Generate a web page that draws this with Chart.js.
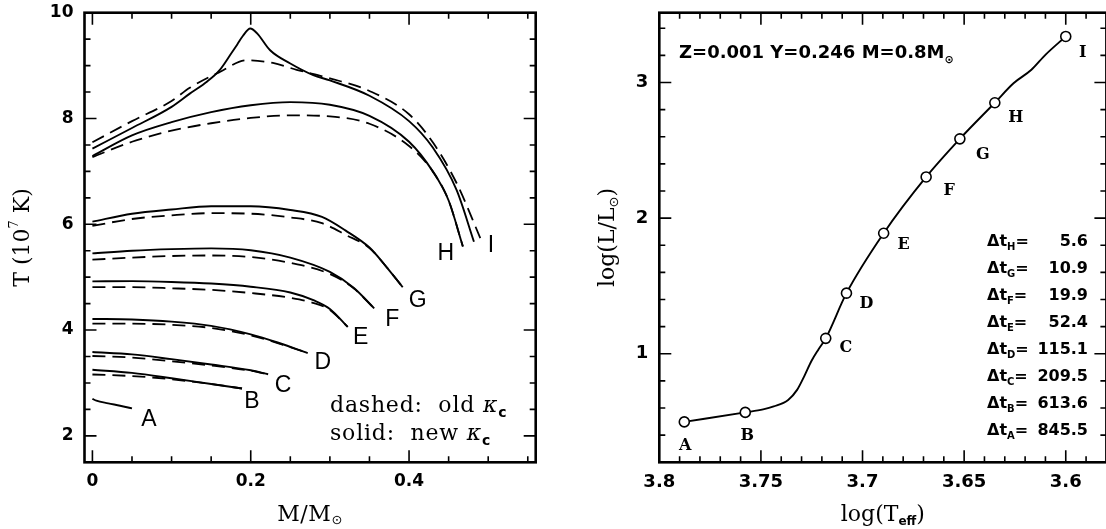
<!DOCTYPE html>
<html>
<head>
<meta charset="utf-8">
<script src="https://cdn.jsdelivr.net/npm/chart.js@4.4.1/dist/chart.umd.min.js"></script>
<style>
  html, body { margin: 0; padding: 0; background: #fff; overflow: hidden; width: 1106px; height: 529px; }
  #left { position: absolute; left: 0; top: 0; }
  #right { position: absolute; left: 553px; top: 0; }
</style>
</head>
<body>
<canvas id="left" width="553" height="529"></canvas>
<canvas id="right" width="560" height="529"></canvas>
<script>
// left panel: temperature profiles T(M) at the points A..I, solid = new kappa_c, dashed = old
const trackNames = ['A', 'B', 'C', 'D', 'E', 'F', 'G', 'H', 'I']

const massA = [0, 0.005, 0.02, 0.035, 0.05]
const newA = [2.70, 2.665, 2.615, 2.57, 2.52]

const massB = [0, 0.05, 0.1, 0.15, 0.189]
const newB = [3.25, 3.19, 3.09, 2.98, 2.895]
const oldB = [3.16, 3.13, 3.07, 2.98, 2.895]

const massC = [0, 0.05, 0.1, 0.15, 0.2, 0.222]
const newC = [3.585, 3.54, 3.45, 3.35, 3.24, 3.165]
const oldC = [3.51, 3.48, 3.41, 3.33, 3.23, 3.165]

const massD = [0, 0.05, 0.1, 0.15, 0.2, 0.235, 0.272]
const newD = [4.21, 4.20, 4.16, 4.08, 3.92, 3.76, 3.565]
const oldD = [4.12, 4.12, 4.10, 4.04, 3.90, 3.75, 3.565]

const massE = [0, 0.05, 0.1, 0.15, 0.2, 0.25, 0.28, 0.30, 0.3225]
const newE = [4.92, 4.925, 4.91, 4.88, 4.82, 4.71, 4.56, 4.40, 4.06]
const oldE = [4.81, 4.81, 4.79, 4.76, 4.70, 4.61, 4.51, 4.38, 4.06]

const massF = [0, 0.05, 0.1, 0.15, 0.2, 0.25, 0.3, 0.33, 0.356]
const newF = [5.45, 5.50, 5.53, 5.545, 5.51, 5.37, 5.10, 4.80, 4.41]
const oldF = [5.33, 5.37, 5.40, 5.41, 5.38, 5.27, 5.06, 4.79, 4.41]

const massG = [0, 0.05, 0.1, 0.15, 0.2, 0.25, 0.29, 0.32, 0.35, 0.37, 0.392]
const newG = [6.05, 6.20, 6.28, 6.34, 6.34, 6.27, 6.14, 5.88, 5.56, 5.22, 4.81]
const oldG = [5.97, 6.10, 6.17, 6.21, 6.20, 6.13, 6.02, 5.80, 5.55, 5.22, 4.81]

const massH = [0, 0.05, 0.1, 0.15, 0.2, 0.25, 0.3, 0.35, 0.4, 0.43, 0.45, 0.468]
const newH = [7.29, 7.68, 7.93, 8.12, 8.25, 8.31, 8.26, 8.05, 7.56, 7.0, 6.45, 5.58]
const oldH = [7.27, 7.56, 7.77, 7.91, 8.01, 8.06, 8.04, 7.90, 7.48, 7.0, 6.45, 5.58]

const massInew = [0, 0.05, 0.1, 0.123, 0.145, 0.161, 0.174, 0.183, 0.19, 0.1994, 0.208, 0.2245, 0.25, 0.279, 0.3, 0.35, 0.4, 0.43, 0.46, 0.482]
const newI = [7.43, 7.82, 8.22, 8.47, 8.70, 8.92, 9.20, 9.40, 9.56, 9.70, 9.61, 9.29, 9.04, 8.82, 8.72, 8.43, 7.95, 7.45, 6.65, 5.67]
const massIold = [0, 0.05, 0.1, 0.123, 0.161, 0.195, 0.228, 0.258, 0.3, 0.35, 0.4, 0.43, 0.46, 0.49]
const oldI = [7.55, 7.95, 8.33, 8.58, 8.88, 9.10, 9.05, 8.92, 8.76, 8.52, 8.08, 7.55, 6.78, 5.74]

const leftXTicks = [0, 0.2, 0.4]
const leftYTicks = [2, 4, 6, 8, 10]

// right panel: HR diagram track with marked points A..I
const pointTeff = [3.7877, 3.7577, 3.7181, 3.7079, 3.6896, 3.6687, 3.6521, 3.6349, 3.6000]
const pointLum = [0.498, 0.568, 1.114, 1.447, 1.889, 2.304, 2.585, 2.851, 3.340]
const trackTeff = [3.7877, 3.7577, 3.7489, 3.7437, 3.7366, 3.7322, 3.7287, 3.7252, 3.7217, 3.7181, 3.7079, 3.6896, 3.6687, 3.6521, 3.6349, 3.6257, 3.6169, 3.6099, 3.6000]
const trackLum = [0.498, 0.568, 0.590, 0.612, 0.660, 0.734, 0.834, 0.945, 1.032, 1.114, 1.447, 1.889, 2.304, 2.585, 2.851, 2.995, 3.094, 3.206, 3.340]

const dtNames = ['H', 'G', 'F', 'E', 'D', 'C', 'B', 'A']
const dtValues = ['5.6', '10.9', '19.9', '52.4', '115.1', '209.5', '613.6', '845.5']

const rightXTicks = [3.8, 3.75, 3.7, 3.65, 3.6]
const rightYTicks = [1, 2, 3]

Chart.defaults.font.family = 'DejaVu Sans'
Chart.defaults.color = '#000'

const pts = (xs, ys) => xs.map((x, i) => ({ x, y: ys[i] }))

const rich = (ctx, parts, x, y, align = 'left', spacing = '0px') => {
  ctx.letterSpacing = spacing
  let w = 0
  parts.forEach(([t, f]) => { ctx.font = f; w += ctx.measureText(t).width })
  let cx = align === 'center' ? x - w / 2 : align === 'right' ? x - w : x
  parts.forEach(([t, f, dy = 0]) => {
    ctx.font = f
    ctx.fillText(t, cx, y + dy)
    cx += ctx.measureText(t).width
  })
  ctx.letterSpacing = '0px'
}

const steps = (from, to, step) => {
  const out = []
  for (let v = from; v <= to + 1e-9; v += step) out.push(+v.toFixed(4))
  return out
}

const framePlugin = (xMajor, xAll, yMajor, yAll) => ({
  id: 'frame',
  afterDatasetsDraw (chart) {
    const { ctx, chartArea: a, scales: { x, y } } = chart
    const isMajor = (list, v) => list.some(m => Math.abs(m - v) < 1e-6)
    ctx.save()
    ctx.strokeStyle = '#000'
    ctx.lineWidth = 1.6
    ctx.beginPath()
    xAll.forEach(v => {
      const p = x.getPixelForValue(v)
      const len = isMajor(xMajor, v) ? 12 : 6
      ctx.moveTo(p, a.bottom); ctx.lineTo(p, a.bottom - len)
      ctx.moveTo(p, a.top); ctx.lineTo(p, a.top + len)
    })
    yAll.forEach(v => {
      const p = y.getPixelForValue(v)
      const len = isMajor(yMajor, v) ? 12 : 6
      ctx.moveTo(a.left, p); ctx.lineTo(a.left + len, p)
      ctx.moveTo(a.right, p); ctx.lineTo(a.right - len, p)
    })
    ctx.stroke()
    ctx.lineWidth = 2.6
    ctx.strokeRect(a.left, a.top, a.right - a.left, a.bottom - a.top)
    ctx.restore()
  }
})

const fixAxis = (size, horizontal) => scale => {
  if (horizontal) scale.height = size
  else scale.width = size
  scale.paddingLeft = 0
  scale.paddingRight = 0
  scale.paddingTop = 0
  scale.paddingBottom = 0
}

// ---------- left chart ----------
const solid = (xs, ys) => ({ data: pts(xs, ys), showLine: true, borderColor: '#000', borderWidth: 1.9, pointRadius: 0, cubicInterpolationMode: 'monotone' })
const dashed = (xs, ys) => ({ ...solid(xs, ys), borderDash: [13, 7], borderWidth: 1.8 })

const newTracks = [[massA, newA], [massB, newB], [massC, newC], [massD, newD], [massE, newE], [massF, newF], [massG, newG], [massH, newH], [massInew, newI]]
const oldTracks = [[massB, oldB], [massC, oldC], [massD, oldD], [massE, oldE], [massF, oldF], [massG, oldG], [massH, oldH], [massIold, oldI]]
const labelShift = [[17, 11], [10, 13.5], [15, 11], [15, 10], [13, 11], [18, 11], [15, 13.5], [-17, 7], [17, 3.5]]

const leftNotes = {
  id: 'leftNotes',
  afterDraw (chart) {
    const { ctx, chartArea: a, scales: { x, y } } = chart
    ctx.save()
    ctx.fillStyle = '#000'
    ctx.textBaseline = 'middle'
    ctx.textAlign = 'left'
    newTracks.forEach(([ms, ts], i) => {
      const px = x.getPixelForValue(ms[ms.length - 1]) + labelShift[i][0]
      const py = y.getPixelForValue(ts[ts.length - 1]) + labelShift[i][1]
      rich(ctx, [[trackNames[i], '23px "Liberation Sans"']], px, py, 'center')
    })
    ctx.textBaseline = 'alphabetic'
    rich(ctx, [['dashed:  old ', '22px "DejaVu Serif"'], ['κ', 'italic 22px "DejaVu Serif"'], ['c', 'bold 14px "DejaVu Sans"', 5]], 330, 412, 'left', '0.8px')
    rich(ctx, [['solid:  new ', '22px "DejaVu Serif"'], ['κ', 'italic 22px "DejaVu Serif"'], ['c', 'bold 14px "DejaVu Sans"', 5]], 330, 440, 'left', '0.8px')
    ctx.textBaseline = 'middle'
    rich(ctx, [['M/M', '22px "DejaVu Serif"'], ['⊙', '13px "DejaVu Sans"', 6]], (a.left + a.right) / 2, 515, 'center', '0.6px')
    ctx.translate(23, (a.top + a.bottom) / 2)
    ctx.rotate(-Math.PI / 2)
    rich(ctx, [['T (10', '22px "DejaVu Serif"'], ['7', '13px "DejaVu Serif"', -8], [' K)', '22px "DejaVu Serif"']], 0, 0, 'center')
    ctx.restore()
  }
}

new Chart(document.getElementById('left'), {
  type: 'scatter',
  data: { datasets: [...newTracks.map(([m, t]) => solid(m, t)), ...oldTracks.map(([m, t]) => dashed(m, t))] },
  options: {
    responsive: false,
    animation: false,
    events: [],
    layout: { padding: { left: 0, right: 17.3, top: 12.7, bottom: 0 } },
    plugins: { legend: { display: false }, tooltip: { enabled: false } },
    scales: {
      x: {
        type: 'linear', min: -0.01, max: 0.56,
        grid: { display: false, drawTicks: false }, border: { display: false },
        afterBuildTicks: s => { s.ticks = leftXTicks.map(value => ({ value })) },
        afterFit: fixAxis(66.7, true),
        ticks: { autoSkip: false, maxRotation: 0, padding: 9, font: { size: 17, weight: 'bold' }, callback: v => v === 0 ? '0' : v.toFixed(1) }
      },
      y: {
        type: 'linear', min: 1.5, max: 10,
        grid: { display: false, drawTicks: false }, border: { display: false },
        afterBuildTicks: s => { s.ticks = leftYTicks.map(value => ({ value })) },
        afterFit: fixAxis(84.5, false),
        ticks: { autoSkip: false, padding: 11, font: { size: 17, weight: 'bold' }, callback: v => String(v) }
      }
    }
  },
  plugins: [framePlugin(leftXTicks, steps(0, 0.55, 0.05), leftYTicks, steps(2, 9.5, 0.5)), leftNotes]
})

// ---------- right chart ----------
const pointShift = [[1, 23.5], [2, 23], [20, 9.5], [20, 11], [20, 12], [23, 14], [23, 16], [21, 15], [17, 16.5]]

const rightNotes = {
  id: 'rightNotes',
  afterDraw (chart) {
    const { ctx, chartArea: a, scales: { x, y } } = chart
    ctx.save()
    ctx.fillStyle = '#000'
    ctx.textBaseline = 'middle'
    pointTeff.forEach((t, i) => {
      const px = x.getPixelForValue(t) + pointShift[i][0]
      const py = y.getPixelForValue(pointLum[i]) + pointShift[i][1]
      rich(ctx, [[trackNames[i], 'bold 16px "DejaVu Serif"']], px, py, 'center')
    })
    ctx.textBaseline = 'alphabetic'
    rich(ctx, [['Z=0.001 Y=0.246 M=0.8M', 'bold 18px "DejaVu Sans"'], ['⊙', 'bold 11px "DejaVu Sans"', 5]], 126, 58)
    dtNames.forEach((n, i) => {
      const base = 246 + i * 27
      rich(ctx, [['Δt', 'bold 16px "DejaVu Sans"'], [n, 'bold 10px "DejaVu Sans"', 4], ['=', 'bold 16px "DejaVu Sans"']], 434, base)
      rich(ctx, [[dtValues[i], 'bold 16px "DejaVu Sans"']], 535, base, 'right')
    })
    ctx.textBaseline = 'middle'
    rich(ctx, [['log(T', '22px "DejaVu Serif"'], ['eff', 'bold 12px "DejaVu Sans"', 7], [')', '22px "DejaVu Serif"']], (a.left + a.right) / 2, 515, 'center')
    ctx.translate(55.6, (a.top + a.bottom) / 2)
    ctx.rotate(-Math.PI / 2)
    rich(ctx, [['log(L/L', '22px "DejaVu Serif"'], ['⊙', '13px "DejaVu Sans"', 6], [')', '22px "DejaVu Serif"']], 0, 0, 'center')
    ctx.restore()
  }
}

new Chart(document.getElementById('right'), {
  type: 'scatter',
  data: {
    datasets: [
      { data: pts(pointTeff, pointLum), pointRadius: 5, pointBorderWidth: 1.6, pointBorderColor: '#000', pointBackgroundColor: '#fff' },
      { data: pts(trackTeff, trackLum), showLine: true, borderColor: '#000', borderWidth: 1.9, pointRadius: 0, cubicInterpolationMode: 'monotone' }
    ]
  },
  options: {
    responsive: false,
    animation: false,
    events: [],
    layout: { padding: { left: 0, right: 5, top: 12.7, bottom: 0 } },
    plugins: { legend: { display: false }, tooltip: { enabled: false } },
    scales: {
      x: {
        type: 'linear', min: 3.58, max: 3.8, reverse: true,
        grid: { display: false, drawTicks: false }, border: { display: false },
        afterBuildTicks: s => { s.ticks = rightXTicks.map(value => ({ value })) },
        afterFit: fixAxis(66.7, true),
        ticks: { autoSkip: false, maxRotation: 0, padding: 9, font: { size: 18, weight: 'bold' }, callback: v => String(parseFloat(v.toFixed(2))) }
      },
      y: {
        type: 'linear', min: 0.2, max: 3.515,
        grid: { display: false, drawTicks: false }, border: { display: false },
        afterBuildTicks: s => { s.ticks = rightYTicks.map(value => ({ value })) },
        afterFit: fixAxis(106.3, false),
        ticks: { autoSkip: false, padding: 11, font: { size: 18, weight: 'bold' }, callback: v => String(v) }
      }
    }
  },
  plugins: [framePlugin(rightXTicks, steps(3.59, 3.79, 0.01), rightYTicks, steps(0.4, 3.4, 0.2)), rightNotes]
})
</script>
</body>
</html>
